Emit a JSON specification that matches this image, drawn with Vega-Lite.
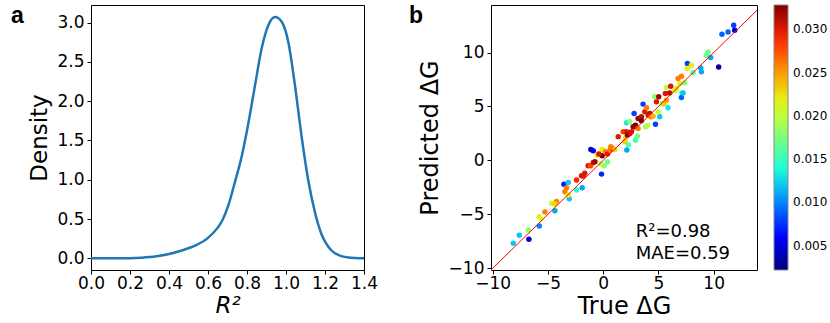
{
  "$schema": "https://vega.github.io/schema/vega-lite/v6.json",
  "padding": {"left": 10, "top": 4, "right": 0, "bottom": 0},
  "bounds": "flush",
  "spacing": 127,
  "config": {
    "view": {"stroke": "black", "strokeWidth": 1},
    "font": "DejaVu Sans",
    "axis": {"grid": false, "domain": false, "tickColor": "black", "tickSize": 4, "tickWidth": 1, "labelColor": "black", "titleColor": "black", "labelFont": "DejaVu Sans", "titleFont": "DejaVu Sans", "titleFontWeight": "normal", "labelFontSize": 17, "titleFontSize": 23, "labelOverlap": false, "labelFlush": false, "labelBound": false},
    "title": {"font": "Liberation Sans", "fontSize": 23, "fontWeight": "bold", "anchor": "start", "frame": "group", "baseline": "alphabetic", "offset": 0, "color": "black"}
  },
  "hconcat": [
    {
      "width": 273,
      "height": 265,
      "title": {"text": "a", "dx": -80, "dy": 27},
      "data": {"values": [
        {"r2": 0.0, "density": 0.0}, {"r2": 0.1, "density": 0.0}, {"r2": 0.2, "density": 0.001},
        {"r2": 0.26, "density": 0.007}, {"r2": 0.3, "density": 0.015}, {"r2": 0.345, "density": 0.03},
        {"r2": 0.4, "density": 0.055}, {"r2": 0.465, "density": 0.1}, {"r2": 0.533, "density": 0.16},
        {"r2": 0.6, "density": 0.26}, {"r2": 0.65, "density": 0.39}, {"r2": 0.675, "density": 0.49},
        {"r2": 0.705, "density": 0.68}, {"r2": 0.738, "density": 0.97}, {"r2": 0.773, "density": 1.3},
        {"r2": 0.807, "density": 1.72}, {"r2": 0.841, "density": 2.2}, {"r2": 0.875, "density": 2.67},
        {"r2": 0.91, "density": 2.97}, {"r2": 0.944, "density": 3.07}, {"r2": 0.978, "density": 3.01},
        {"r2": 1.012, "density": 2.75}, {"r2": 1.046, "density": 2.2}, {"r2": 1.08, "density": 1.55},
        {"r2": 1.115, "density": 0.98}, {"r2": 1.149, "density": 0.58}, {"r2": 1.183, "density": 0.3},
        {"r2": 1.217, "density": 0.147}, {"r2": 1.251, "density": 0.064}, {"r2": 1.32, "density": 0.01},
        {"r2": 1.4, "density": 0.0}
      ]},
      "mark": {"type": "line", "color": "#1f77b4", "strokeWidth": 2.5, "interpolate": "monotone"},
      "encoding": {
        "x": {"field": "r2", "type": "quantitative", "scale": {"domain": [0, 1.4], "nice": false, "zero": false},
          "axis": {"title": "R²", "titleFontStyle": "italic", "values": [0, 0.2, 0.4, 0.6, 0.8, 1.0, 1.2, 1.4], "format": ".1f", "labelPadding": 1, "titlePadding": 3}},
        "y": {"field": "density", "type": "quantitative", "scale": {"domain": [-0.149, 3.224], "nice": false, "zero": false},
          "axis": {"title": "Density", "values": [0, 0.5, 1.0, 1.5, 2.0, 2.5, 3.0], "format": ".1f", "labelPadding": 3, "titlePadding": 5}}
      }
    },
    {
      "width": 266,
      "height": 265,
      "title": {"text": "b", "dx": -82, "dy": 27},
      "layer": [
        {
          "data": {"values": [
            {"x": -8.13, "y": -7.69, "c": 0.012}, {"x": -7.59, "y": -6.94, "c": 0.012}, {"x": -6.78, "y": -6.45, "c": 0.018},
            {"x": -6.72, "y": -7.31, "c": 0.005}, {"x": -5.78, "y": -6.08, "c": 0.010}, {"x": -5.78, "y": -5.22, "c": 0.022},
            {"x": -5.63, "y": -5.40, "c": 0.021}, {"x": -5.27, "y": -4.78, "c": 0.026}, {"x": -4.67, "y": -3.98, "c": 0.020},
            {"x": -4.37, "y": -4.66, "c": 0.011}, {"x": -4.22, "y": -3.80, "c": 0.026}, {"x": -4.37, "y": -4.04, "c": 0.023},
            {"x": -3.55, "y": -2.22, "c": 0.007}, {"x": -3.31, "y": -2.53, "c": 0.026}, {"x": -3.46, "y": -2.90, "c": 0.026},
            {"x": -3.16, "y": -2.04, "c": 0.012}, {"x": -3.07, "y": -3.55, "c": 0.012}, {"x": -3.16, "y": -3.21, "c": 0.022},
            {"x": -2.41, "y": -2.75, "c": 0.014}, {"x": -2.41, "y": -1.82, "c": 0.029}, {"x": -1.90, "y": -2.53, "c": 0.011},
            {"x": -1.81, "y": -1.45, "c": 0.030}, {"x": -1.66, "y": -1.20, "c": 0.030}, {"x": -1.96, "y": -1.42, "c": 0.030},
            {"x": -1.36, "y": -0.49, "c": 0.030}, {"x": -1.14, "y": -0.49, "c": 0.028}, {"x": -0.90, "y": -0.19, "c": 0.030},
            {"x": -0.75, "y": -0.12, "c": 0.032}, {"x": -1.11, "y": 1.02, "c": 0.004}, {"x": -0.90, "y": 0.90, "c": 0.005},
            {"x": -0.54, "y": 0.49, "c": 0.022}, {"x": -0.21, "y": -0.34, "c": 0.020}, {"x": 0.09, "y": -0.49, "c": 0.018},
            {"x": 0.39, "y": -0.15, "c": 0.017}, {"x": -0.15, "y": -1.27, "c": 0.007}, {"x": -0.09, "y": 1.02, "c": 0.022},
            {"x": -0.09, "y": 0.43, "c": 0.033}, {"x": 0.21, "y": 0.80, "c": 0.026}, {"x": 0.39, "y": 0.59, "c": 0.030},
            {"x": 0.63, "y": 0.96, "c": 0.026}, {"x": 0.90, "y": 1.05, "c": 0.030}, {"x": 1.05, "y": 1.02, "c": 0.023},
            {"x": -0.39, "y": 0.59, "c": 0.030}, {"x": 0.69, "y": 1.27, "c": 0.026}, {"x": 1.36, "y": 2.19, "c": 0.030},
            {"x": 1.81, "y": 2.65, "c": 0.028}, {"x": 1.96, "y": 1.73, "c": 0.023}, {"x": 2.05, "y": 2.13, "c": 0.023},
            {"x": 2.11, "y": 2.65, "c": 0.030}, {"x": 2.14, "y": 0.96, "c": 0.011}, {"x": 2.29, "y": 1.42, "c": 0.016},
            {"x": 2.20, "y": 2.35, "c": 0.033}, {"x": 2.41, "y": 2.50, "c": 0.031}, {"x": 2.56, "y": 2.65, "c": 0.030},
            {"x": 2.11, "y": 3.49, "c": 0.013}, {"x": 2.41, "y": 3.58, "c": 0.018}, {"x": 2.80, "y": 4.35, "c": 0.008},
            {"x": 2.71, "y": 3.12, "c": 0.032}, {"x": 2.92, "y": 3.27, "c": 0.033}, {"x": 2.92, "y": 1.88, "c": 0.016},
            {"x": 3.10, "y": 2.25, "c": 0.017}, {"x": 3.16, "y": 2.96, "c": 0.026}, {"x": 3.16, "y": 3.89, "c": 0.032},
            {"x": 3.46, "y": 4.04, "c": 0.031}, {"x": 3.46, "y": 3.67, "c": 0.033}, {"x": 3.61, "y": 5.22, "c": 0.008},
            {"x": 3.77, "y": 4.51, "c": 0.030}, {"x": 3.83, "y": 3.12, "c": 0.018}, {"x": 4.01, "y": 3.27, "c": 0.020},
            {"x": 3.92, "y": 4.88, "c": 0.026}, {"x": 4.07, "y": 4.20, "c": 0.030}, {"x": 4.22, "y": 4.35, "c": 0.031},
            {"x": 4.31, "y": 4.04, "c": 0.026}, {"x": 4.52, "y": 4.10, "c": 0.024}, {"x": 4.73, "y": 3.36, "c": 0.008},
            {"x": 4.82, "y": 5.43, "c": 0.030}, {"x": 4.67, "y": 5.90, "c": 0.018}, {"x": 4.97, "y": 4.48, "c": 0.020},
            {"x": 5.12, "y": 4.04, "c": 0.012}, {"x": 5.03, "y": 5.90, "c": 0.032}, {"x": 5.33, "y": 5.28, "c": 0.018},
            {"x": 5.51, "y": 5.22, "c": 0.023}, {"x": 5.72, "y": 5.59, "c": 0.025}, {"x": 5.63, "y": 6.20, "c": 0.030},
            {"x": 5.72, "y": 6.76, "c": 0.020}, {"x": 5.87, "y": 4.88, "c": 0.013}, {"x": 6.02, "y": 6.26, "c": 0.031},
            {"x": 6.11, "y": 6.88, "c": 0.030}, {"x": 6.48, "y": 6.45, "c": 0.021}, {"x": 6.63, "y": 6.67, "c": 0.022},
            {"x": 6.78, "y": 7.59, "c": 0.026}, {"x": 7.08, "y": 7.81, "c": 0.026}, {"x": 6.93, "y": 7.13, "c": 0.022},
            {"x": 7.14, "y": 6.26, "c": 0.014}, {"x": 7.08, "y": 5.83, "c": 0.009}, {"x": 7.23, "y": 6.26, "c": 0.012},
            {"x": 7.38, "y": 7.19, "c": 0.018}, {"x": 7.62, "y": 8.98, "c": 0.008}, {"x": 7.62, "y": 8.52, "c": 0.022},
            {"x": 7.98, "y": 8.83, "c": 0.022}, {"x": 8.13, "y": 8.12, "c": 0.016}, {"x": 8.83, "y": 8.58, "c": 0.011},
            {"x": 8.89, "y": 8.21, "c": 0.011}, {"x": 9.34, "y": 9.75, "c": 0.017}, {"x": 9.49, "y": 10.06, "c": 0.017},
            {"x": 9.73, "y": 9.54, "c": 0.011}, {"x": 10.45, "y": 8.67, "c": 0.003}, {"x": 10.75, "y": 11.70, "c": 0.009},
            {"x": 11.30, "y": 11.91, "c": 0.009}, {"x": 11.81, "y": 12.53, "c": 0.008}, {"x": 11.90, "y": 12.07, "c": 0.005}
          ]},
          "mark": {"type": "circle", "size": 30, "opacity": 1},
          "encoding": {
            "x": {"field": "x", "type": "quantitative", "scale": {"domain": [-10.15, 13.92], "nice": false, "zero": false},
              "axis": {"title": "True ΔG", "values": [-10, -5, 0, 5, 10], "format": "d", "labelPadding": 1, "titlePadding": 3, "titleFontSize": 24}},
            "y": {"field": "y", "type": "quantitative", "scale": {"domain": [-10.16, 14.41], "nice": false, "zero": false},
              "axis": {"title": "Predicted ΔG", "values": [-10, -5, 0, 5, 10], "format": "d", "labelPadding": 3, "titlePadding": 6, "titleFontSize": 24}},
            "color": {"field": "c", "type": "quantitative",
              "scale": {"type": "linear", "domain": [0.0022, 0.006025, 0.00985, 0.013675, 0.0175, 0.021325, 0.02515, 0.028975, 0.0328],
                "range": ["#000080", "#0000ff", "#0080ff", "#15ffe2", "#7bff7b", "#e2ff15", "#ff9700", "#ff2100", "#800000"], "interpolate": "rgb"},
              "legend": {"title": null, "orient": "right", "offset": 16, "gradientLength": 265, "gradientThickness": 14,
                "values": [0.005, 0.01, 0.015, 0.02, 0.025, 0.03], "format": ".3f", "labelFontSize": 12, "labelOverlap": false,
                "gradientStrokeColor": "#888888", "gradientStrokeWidth": 1, "labelColor": "black", "labelFont": "DejaVu Sans", "labelOffset": 5}}
          }
        },
        {
          "data": {"values": [{"x": -11, "y": -11}, {"x": 15, "y": 15}]},
          "mark": {"type": "line", "color": "red", "strokeWidth": 1, "clip": true},
          "encoding": {"x": {"field": "x", "type": "quantitative"}, "y": {"field": "y", "type": "quantitative"}}
        },
        {
          "data": {"values": [{}]},
          "mark": {"type": "text", "align": "left", "baseline": "alphabetic", "fontSize": 18, "font": "DejaVu Sans", "color": "black"},
          "encoding": {"x": {"datum": 2.94}, "y": {"datum": -7.07}, "text": {"value": "R²=0.98"}}
        },
        {
          "data": {"values": [{}]},
          "mark": {"type": "text", "align": "left", "baseline": "alphabetic", "fontSize": 18, "font": "DejaVu Sans", "color": "black"},
          "encoding": {"x": {"datum": 2.94}, "y": {"datum": -9.17}, "text": {"value": "MAE=0.59"}}
        }
      ]
    }
  ]
}
